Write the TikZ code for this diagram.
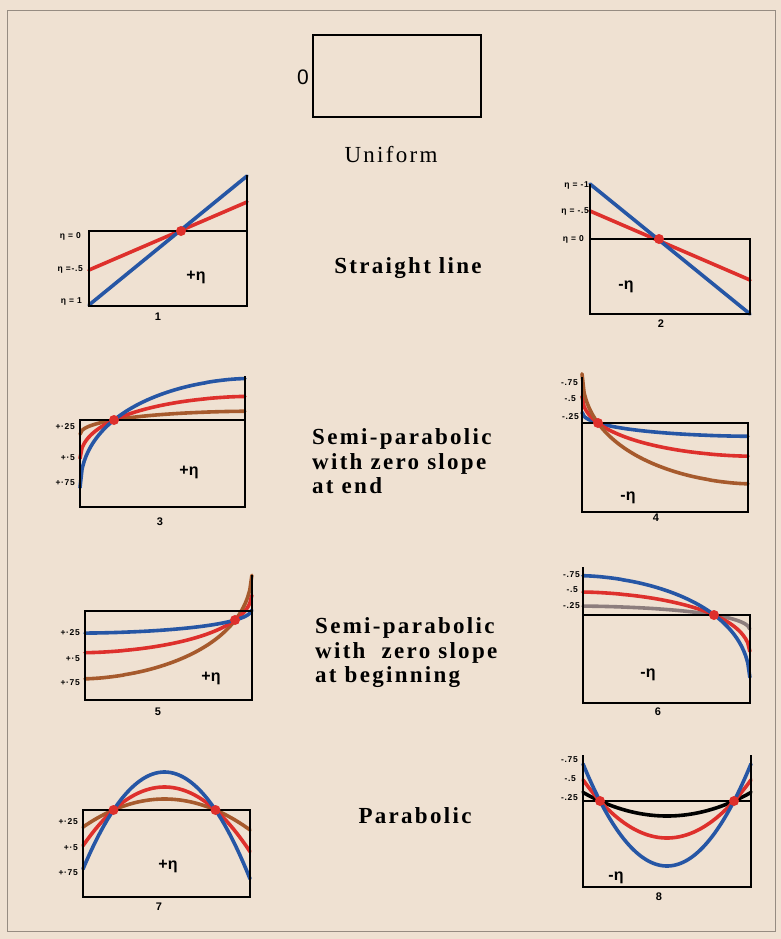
\documentclass[tikz,border=0pt]{standalone}
\usepackage{fontspec}
\setmainfont{Liberation Serif}
\newfontfamily\lblfont{Liberation Sans}
\newfontfamily\smlfont[LetterSpace=8]{Liberation Sans}
\newfontfamily\ttlfont[LetterSpace=10]{Liberation Serif}
\definecolor{bg}{RGB}{239,225,210}
\definecolor{cblue}{RGB}{38,86,165}
\definecolor{cred}{RGB}{222,48,44}
\definecolor{cbrown}{RGB}{166,90,45}
\definecolor{cgray}{RGB}{140,125,125}
\definecolor{frame}{RGB}{150,140,130}
\begin{document}
\begin{tikzpicture}[x=1pt,y=-1pt,
  declare function={hf(\t)=(1.00001-sqrt(\t))^1.6;},
  boxline/.style={line width=2.2pt,line join=miter},
  crv/.style={line width=3.6pt,line cap=round},
  bl/.style={crv,cblue},
  rd/.style={crv,cred},
  br/.style={crv,cbrown},
  dotc/.style={circle,fill=cred,inner sep=0pt,minimum size=10pt},
  lbl/.style={font=\smlfont\bfseries\fontsize{8.5}{9}\selectfont,anchor=east,inner sep=0pt},
  sgn/.style={font=\lblfont\bfseries\fontsize{16}{18}\selectfont,inner sep=0pt},
  num/.style={font=\lblfont\bfseries\fontsize{11}{12}\selectfont,inner sep=0pt},
  ttl/.style={font=\ttlfont\bfseries\fontsize{23}{24}\selectfont,inner sep=0pt},
]
\useasboundingbox (0,0) rectangle (781,939);
\fill[bg] (0,0) rectangle (781,939);
\draw[frame,line width=0.8pt] (7,10) rectangle (775,931);

% ---------- Uniform ----------
\draw[boxline] (313,35) rectangle (481,117);
\node[font=\lblfont\fontsize{21}{22}\selectfont,anchor=east,inner sep=0pt] (zero) at (309,77) {0};
\node[font=\ttlfont\fontsize{23}{24}\selectfont,anchor=base,inner sep=0pt] (tuni) at (391,162) {Uniform};

% ---------- Straight line ----------
\node[ttl,anchor=base] (tstr) at (408,273) {Straight line};
% box 1
\draw[rd] (89,270) -- (247,202);
\draw[bl] (89,305) -- (247,176);
\draw[boxline] (247,175) -- (247,306) -- (89,306) -- (89,231) -- (247,231);
\node[dotc] (d1) at (181,231) {};
\node[lbl] (l1a) at (81,236) {η = 0};
\node[lbl] (l1b) at (83,269) {η =-.5};
\node[lbl] (l1c) at (82,301) {η = 1};
\node[sgn] (s1) at (196,277) {+η};
\node[num] (n1) at (158,317) {1};
% box 2
\draw[rd] (590,211) -- (750,280);
\draw[bl] (590,184) -- (750,314);
\draw[boxline] (590,184) -- (590,314) -- (750,314) -- (750,239) -- (590,239);
\node[dotc] (d2) at (659,239) {};
\node[lbl] (l2a) at (589,185) {η = -1};
\node[lbl] (l2b) at (589,211) {η = -.5};
\node[lbl] (l2c) at (584,239) {η = 0};
\node[sgn] (s2) at (626,287) {-η};
\node[num] (n2) at (661,324) {2};

% ---------- Semi-parabolic, zero slope at end ----------
\node[ttl,anchor=base west] (t3a) at (312,444) {Semi-parabolic};
\node[ttl,anchor=base west] (t3b) at (312,469) {with zero slope};
\node[ttl,anchor=base west] (t3c) at (312,493) {at end};
% box 3
\draw[br] plot[domain=0:1,samples=80,variable=\t] ({80+165*\t},{420+23*(hf(\t)-hf(0.206))});
\draw[rd] plot[domain=0:1,samples=80,variable=\t] ({80+165*\t},{420+62*(hf(\t)-hf(0.206))});
\draw[bl] plot[domain=0:1,samples=80,variable=\t] ({80+165*\t},{420+109*(hf(\t)-hf(0.206))});
\draw[boxline] (245,376) -- (245,507) -- (80,507) -- (80,420) -- (245,420);
\node[dotc] (d3) at (114,420) {};
\node[lbl] (l3a) at (75,427) {+·25};
\node[lbl] (l3b) at (75,458) {+·5};
\node[lbl] (l3c) at (75,483) {+·75};
\node[sgn] (s3) at (189,472) {+η};
\node[num] (n3) at (160,522) {3};
% box 4
\draw[bl] plot[domain=0:1,samples=80,variable=\t] ({582+166*\t},{423-24*(hf(\t)-hf(0.096))});
\draw[rd] plot[domain=0:1,samples=80,variable=\t] ({582+166*\t},{423-60*(hf(\t)-hf(0.096))});
\draw[br] plot[domain=0:1,samples=80,variable=\t] ({582+166*\t},{423-110*(hf(\t)-hf(0.096))});
\draw[boxline] (582,377) -- (582,512) -- (748,512) -- (748,423) -- (582,423);
\node[dotc] (d4) at (598,423) {};
\node[lbl] (l4a) at (578,383) {-.75};
\node[lbl] (l4b) at (576,399) {-.5};
\node[lbl] (l4c) at (579,417) {-.25};
\node[sgn] (s4) at (628,498) {-η};
\node[num] (n4) at (656,518) {4};

% ---------- Semi-parabolic, zero slope at beginning ----------
\node[ttl,anchor=base west] (t5a) at (315,633) {Semi-parabolic};
\node[ttl,anchor=base west] (t5b) at (315,658) {with\ \ zero slope};
\node[ttl,anchor=base west] (t5c) at (315,682) {at beginning};
% box 5
\draw[br] plot[domain=0:1,samples=80,variable=\t] ({85+167*\t},{620-108*(hf(1-\t)-hf(0.1))});
\draw[rd] plot[domain=0:1,samples=80,variable=\t] ({85+167*\t},{620-60*(hf(1-\t)-hf(0.1))});
\draw[bl] plot[domain=0:1,samples=80,variable=\t] ({85+167*\t},{620-24*(hf(1-\t)-hf(0.1))});
\draw[boxline] (252,575) -- (252,700) -- (85,700) -- (85,611) -- (252,611);
\node[dotc] (d5) at (235,620) {};
\node[lbl] (l5a) at (80,633) {+·25};
\node[lbl] (l5b) at (80,659) {+·5};
\node[lbl] (l5c) at (80,683) {+·75};
\node[sgn] (s5) at (211,678) {+η};
\node[num] (n5) at (158,712) {5};
% box 6
\draw[crv,cgray] plot[domain=0:1,samples=80,variable=\t] ({583+167*\t},{615+24*(hf(1-\t)-hf(0.214))});
\draw[rd] plot[domain=0:1,samples=80,variable=\t] ({583+167*\t},{615+62*(hf(1-\t)-hf(0.214))});
\draw[bl] plot[domain=0:1,samples=80,variable=\t] ({583+167*\t},{615+106*(hf(1-\t)-hf(0.214))});
\draw[boxline] (583,567) -- (583,703) -- (750,703) -- (750,615) -- (583,615);
\node[dotc] (d6) at (714,615) {};
\node[lbl] (l6a) at (580,575) {-.75};
\node[lbl] (l6b) at (578,590) {-.5};
\node[lbl] (l6c) at (580,606) {-.25};
\node[sgn] (s6) at (648,675) {-η};
\node[num] (n6) at (658,712) {6};

% ---------- Parabolic ----------
\node[ttl,anchor=base] (t7) at (415,823) {Parabolic};
% box 7
\draw[br] plot[domain=83:250,samples=80,variable=\x] ({\x},{810-11*(1-((\x-164.5)/51)^2)});
\draw[rd] plot[domain=83:250,samples=80,variable=\x] ({\x},{810-23*(1-((\x-164.5)/51)^2)});
\draw[bl] plot[domain=83:250,samples=80,variable=\x] ({\x},{810-38*(1-((\x-164.5)/51)^2)});
\draw[boxline] (83,810) rectangle (250,897);
\node[dotc] (d7a) at (113.5,810) {};
\node[dotc] (d7b) at (215.5,810) {};
\node[lbl] (l7a) at (78,822) {+·25};
\node[lbl] (l7b) at (78,848) {+·5};
\node[lbl] (l7c) at (78,873) {+·75};
\node[sgn] (s7) at (168,866) {+η};
\node[num] (n7) at (159,907) {7};
% box 8
\draw[crv,black] plot[domain=583:751,samples=80,variable=\x] ({\x},{801+15*(1-((\x-667)/67)^2)});
\draw[rd] plot[domain=583:751,samples=80,variable=\x] ({\x},{801+37*(1-((\x-667)/67)^2)});
\draw[bl] plot[domain=583:751,samples=80,variable=\x] ({\x},{801+65*(1-((\x-667)/67)^2)});
\draw[boxline] (583,755) -- (583,887) -- (751,887) -- (751,755);
\draw[boxline] (583,801) -- (751,801);
\node[dotc] (d8a) at (600,801) {};
\node[dotc] (d8b) at (734,801) {};
\node[lbl] (l8a) at (578,760) {-.75};
\node[lbl] (l8b) at (576,779) {-.5};
\node[lbl] (l8c) at (578,798) {-.25};
\node[sgn] (s8) at (616,878) {-η};
\node[num] (n8) at (659,897) {8};
\end{tikzpicture}
\end{document}
